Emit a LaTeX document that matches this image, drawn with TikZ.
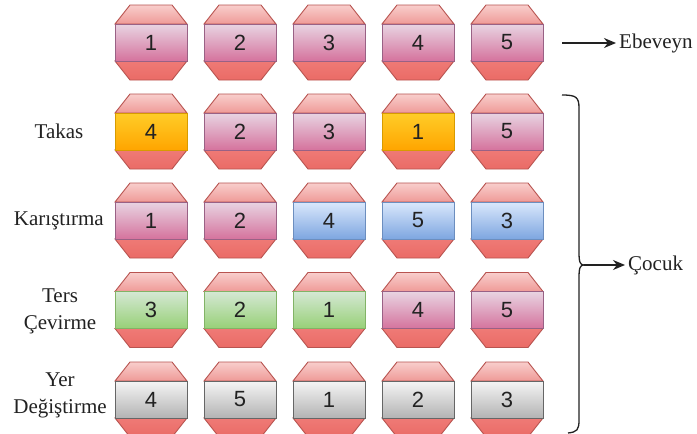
\documentclass[tikz,border=0pt]{standalone}
\usepackage{fontspec}
\setmainfont{Liberation Serif}
\newfontfamily\numfont{Liberation Sans}
\usetikzlibrary{arrows.meta}
\definecolor{tpA}{HTML}{F8CECC}
\definecolor{tpB}{HTML}{EF9A97}
\definecolor{btA}{HTML}{EF7A76}
\definecolor{btB}{HTML}{EA6B66}
\definecolor{redS}{HTML}{B85450}
\definecolor{pkA}{HTML}{E8D4E2}
\definecolor{pkB}{HTML}{D5739D}
\definecolor{pkS}{HTML}{996185}
\definecolor{orA}{HTML}{FFCD28}
\definecolor{orB}{HTML}{FFA500}
\definecolor{orS}{HTML}{D79B00}
\definecolor{blA}{HTML}{DAE8FC}
\definecolor{blB}{HTML}{7EA6E0}
\definecolor{blS}{HTML}{6C8EBF}
\definecolor{grA}{HTML}{D5E8D4}
\definecolor{grB}{HTML}{97D077}
\definecolor{grS}{HTML}{82B366}
\definecolor{gyA}{HTML}{F5F5F5}
\definecolor{gyB}{HTML}{B3B3B3}
\definecolor{gyS}{HTML}{666666}
\definecolor{txt}{HTML}{222222}
\tikzset{
  topcap/.style={top color=tpA, bottom color=tpB, draw=redS, line width=0.9pt},
  botcap/.style={top color=btA, bottom color=btB, draw=redS, line width=0.9pt},
  P/.style={top color=pkA, bottom color=pkB, draw=pkS, line width=0.9pt},
  O/.style={top color=orA, bottom color=orB, draw=orS, line width=0.9pt},
  B/.style={top color=blA, bottom color=blB, draw=blS, line width=0.9pt},
  G/.style={top color=grA, bottom color=grB, draw=grS, line width=0.9pt},
  Y/.style={top color=gyA, bottom color=gyB, draw=gyS, line width=0.9pt},
  numtxt/.style={font=\numfont\fontsize{22}{26}\selectfont, text=txt, inner sep=0pt},
  lbl/.style={font=\fontsize{21}{27}\selectfont, text=txt, inner sep=0pt, align=center},
  arr/.style={line width=1.3pt, draw=txt, shorten >=3pt, -{Stealth[length=12pt,width=10pt]}},
}
\begin{document}
\begin{tikzpicture}[x=1pt,y=-1pt]
\useasboundingbox[fill=white] (0,0) rectangle (697,434);
\foreach \row/\cy/\items in {
  1/42.5/{1/P,2/P,3/P,4/P,5/P},
  2/131.5/{4/O,2/P,3/P,1/O,5/P},
  3/220.5/{1/P,2/P,4/B,5/B,3/B},
  4/310/{3/G,2/G,1/G,4/P,5/P},
  5/399.5/{4/Y,5/Y,1/Y,2/Y,3/Y}}{
  \foreach \num/\sty [count=\col] in \items {
    \pgfmathsetmacro{\cx}{151+89*(\col-1)}
    \path[topcap] (\cx-21,\cy-37.5) -- (\cx+21,\cy-37.5) -- (\cx+36,\cy-18.5) -- (\cx-36,\cy-18.5) -- cycle;
    \path[botcap] (\cx-36,\cy+18.5) -- (\cx+36,\cy+18.5) -- (\cx+21,\cy+37.5) -- (\cx-21,\cy+37.5) -- cycle;
    \path[\sty] (\cx-36,\cy-18.5) rectangle (\cx+36,\cy+18.5);
    \node[numtxt] (n-\row-\col) at (\cx,\cy) {\num};
  }
}
% row labels
\node[lbl] (takas) at (59,131.5) {Takas};
\node[lbl, anchor=east] (karis) at (104,221) {Karıştırma};
\node[lbl] (ters) at (60,311) {Ters\\Çevirme};
\node[lbl] (yer) at (60,395) {Yer\\Değiştirme};
% parent arrow
\node[lbl, anchor=west] (ebeveyn) at (619,43) {Ebeveyn};
\coordinate (ebs) at (562,43);
\draw[arr] (ebs) -- (ebeveyn.west);
% brace
\draw[line width=1.3pt, draw=txt] (562,95) .. controls (576,95) and (579,97) .. (579,108)
  -- (579,252) .. controls (579,262) and (580,265) .. (584,265)
  .. controls (580,265) and (579,268) .. (579,278)
  -- (579,420) .. controls (579,430) and (577,432) .. (568,433);
\coordinate (brtip) at (584,265);
\node[lbl, anchor=west] (cocuk) at (628,265) {Çocuk};
\draw[arr] (brtip) -- (cocuk.west);
\end{tikzpicture}
\end{document}
